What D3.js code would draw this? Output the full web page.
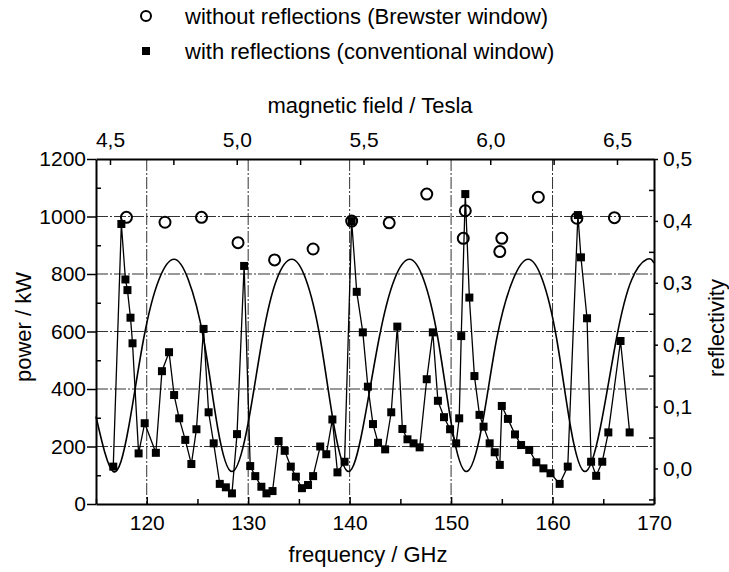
<!DOCTYPE html>
<html>
<head>
<meta charset="utf-8">
<script src="https://cdn.jsdelivr.net/npm/d3@7"></script>
<style>
  body { margin: 0; background: #fff; }
  svg { font-family: "Liberation Sans", Arial, sans-serif; }
  .axis path.domain { stroke: #000; stroke-width: 2; }
  .axis line { stroke: #000; stroke-width: 1.5; }
  .axis text { font-size: 21px; fill: #000; }
  .grid line { stroke: #333; stroke-width: 1; stroke-dasharray: 12,2,2,2; }
</style>
</head>
<body>
<div id="chart"></div>
<script>
// values
const openFreq = [118.0, 121.8, 125.4, 129.0, 132.6, 136.4, 140.2, 143.9, 147.6, 151.4, 151.2, 155.0, 154.8, 158.6, 162.4, 166.1];
const openPower = [997, 980, 997, 909, 849, 887, 984, 978, 1078, 1020, 924, 924, 878, 1067, 994, 996];

const filledFreq = [116.7, 117.5, 117.9, 118.1, 118.4, 118.6, 119.2, 119.8, 120.9, 121.5, 122.2, 122.7, 123.2, 123.8,
  124.4, 124.9, 125.6, 126.1, 126.6, 127.2, 127.8, 128.4, 128.9, 129.6, 130.2, 130.7, 131.3, 131.8, 132.4, 133.0,
  133.6, 134.2, 134.7, 135.3, 135.9, 136.4, 137.1, 137.7, 138.3, 138.8, 139.5, 140.2, 140.7, 141.3, 141.8, 142.3,
  142.8, 143.5, 144.1, 144.7, 145.2, 145.7, 146.3, 146.9, 147.6, 148.2, 148.7, 149.3, 149.9, 150.5, 150.8, 151.0,
  151.4, 151.8, 152.3, 152.8, 153.2, 153.8, 154.3, 154.8, 155.0, 155.6, 156.3, 156.9, 157.7, 158.4, 159.1, 159.8,
  160.7, 161.5, 162.5, 162.8, 163.4, 163.8, 164.3, 164.9, 165.5, 166.7, 167.6];
const filledPower = [130, 974, 781, 744, 648, 559, 176, 281, 178, 462, 528, 379, 298, 223,
  139, 260, 609, 319, 211, 70, 58, 37, 243, 828, 132, 97, 60, 37, 45, 219,
  185, 130, 95, 55, 66, 97, 200, 173, 294, 110, 147, 984, 738, 597, 408, 278,
  213, 190, 319, 617, 261, 225, 211, 197, 434, 597, 359, 302, 260, 211, 298, 584,
  1078, 718, 445, 310, 269, 211, 180, 136, 341, 296, 242, 205, 188, 145, 124, 107,
  70, 130, 1005, 858, 646, 147, 98, 147, 249, 567, 249];

const reflFreq = [115.0, 116.7, 118.2, 119.7, 121.2, 122.7, 124.1, 125.6, 127.0, 128.4, 129.9, 131.4, 132.8, 134.3,
  135.7, 137.1, 138.5, 139.9, 141.3, 142.9, 144.4, 145.9, 147.3, 148.7, 150.1, 151.5, 153.0, 154.5, 156.1, 157.6,
  159.0, 160.4, 161.8, 163.2, 164.7, 166.3, 167.8, 169.3, 170.0];
const reflValue = [0.084, -0.005, 0.065, 0.21, 0.305, 0.338, 0.305, 0.21, 0.065, -0.005, 0.065, 0.21, 0.305, 0.338,
  0.305, 0.21, 0.065, -0.005, 0.065, 0.21, 0.305, 0.338, 0.305, 0.21, 0.065, -0.005, 0.065, 0.21, 0.305, 0.338,
  0.305, 0.21, 0.065, -0.005, 0.065, 0.21, 0.305, 0.338, 0.332];

const freqTicks = [120, 130, 140, 150, 160, 170];
const freqMinor = [115, 125, 135, 145, 155, 165];
const powerTicks = [0, 200, 400, 600, 800, 1000, 1200];
const powerMinor = [100, 300, 500, 700, 900, 1100];
const fieldTicks = [4.5, 4.75, 5.0, 5.25, 5.5, 5.75, 6.0, 6.25, 6.5];
const reflTicks = [0, 0.1, 0.2, 0.3, 0.4, 0.5];
const reflMinor = [-0.05, 0.05, 0.15, 0.25, 0.35, 0.45];

const legendLabels = ['without reflections (Brewster window)', 'with reflections (conventional window)'];

const margin = { top: 159, right: 75, bottom: 68, left: 96 };
const width = 729 - margin.left - margin.right;
const height = 572 - margin.top - margin.bottom;

const comma = d => d3.format('.1f')(d).replace('.', ',');

const svg = d3.select('#chart')
  .append('svg')
  .attr('width', 729)
  .attr('height', 572);

const g = svg.append('g')
  .attr('transform', `translate(${margin.left},${margin.top})`);

const x = d3.scaleLinear().domain([115, 170]).range([0, width]);
const y = d3.scaleLinear().domain([0, 1200]).range([height, 0]);
const r = d3.scaleLinear().domain([-0.0574, 0.5]).range([height, 0]);
const b = d3.scaleLinear().domain([4.4448, 6.646]).range([0, width]);

// grid
g.append('g').attr('class', 'grid')
  .selectAll('line')
  .data(powerTicks.filter(d => d > 0 && d < 1200))
  .enter().append('line')
  .attr('x1', 0).attr('x2', width)
  .attr('y1', d => y(d)).attr('y2', d => y(d));

g.append('g').attr('class', 'grid')
  .selectAll('line')
  .data(freqTicks.filter(d => d < 170))
  .enter().append('line')
  .attr('y1', 0).attr('y2', height)
  .attr('x1', d => x(d)).attr('x2', d => x(d));

// reflectivity curve
g.append('path')
  .datum(reflFreq.map((f, i) => [f, reflValue[i]]))
  .attr('fill', 'none')
  .attr('stroke', '#000')
  .attr('stroke-width', 1.6)
  .attr('d', d3.line().x(d => x(d[0])).y(d => r(d[1])).curve(d3.curveNatural));

// with reflections: line + squares
const filled = filledFreq.map((f, i) => [f, filledPower[i]]);
g.append('path')
  .datum(filled)
  .attr('fill', 'none')
  .attr('stroke', '#000')
  .attr('stroke-width', 1.3)
  .attr('d', d3.line().x(d => x(d[0])).y(d => y(d[1])));

g.selectAll('.sq')
  .data(filled)
  .enter().append('rect')
  .attr('class', 'sq')
  .attr('x', d => x(d[0]) - 4)
  .attr('y', d => y(d[1]) - 4)
  .attr('width', 8)
  .attr('height', 8)
  .attr('fill', '#000');

// without reflections: open circles
g.selectAll('.ci')
  .data(openFreq.map((f, i) => [f, openPower[i]]))
  .enter().append('circle')
  .attr('class', 'ci')
  .attr('cx', d => x(d[0]))
  .attr('cy', d => y(d[1]))
  .attr('r', 5.5)
  .attr('fill', 'none')
  .attr('stroke', '#000')
  .attr('stroke-width', 2);

// axes
g.append('g').attr('class', 'axis')
  .call(d3.axisLeft(y).tickValues(powerTicks).tickSize(9).tickSizeOuter(0).tickPadding(1).tickFormat(d3.format('d')));
g.append('g').attr('class', 'axis')
  .call(d3.axisRight(y).tickValues(powerMinor).tickSize(5).tickFormat(''))
  .select('.domain').remove();

g.append('g').attr('class', 'axis')
  .attr('transform', `translate(0,${height})`)
  .call(d3.axisBottom(x).tickValues(freqTicks).tickSizeInner(-7).tickSizeOuter(0).tickPadding(11).tickFormat(d3.format('d')));
g.append('g').attr('class', 'axis')
  .attr('transform', `translate(0,${height})`)
  .call(d3.axisTop(x).tickValues(freqMinor).tickSize(5).tickFormat(''))
  .select('.domain').remove();

g.append('g').attr('class', 'axis')
  .call(d3.axisTop(b).tickValues(fieldTicks).tickSizeInner(-6).tickSizeOuter(0).tickPadding(12)
    .tickFormat(d => (Math.round(d * 4) % 2 === 0 ? comma(d) : '')));

g.append('g').attr('class', 'axis')
  .attr('transform', `translate(${width},0)`)
  .call(d3.axisRight(r).tickValues(reflTicks).tickSizeInner(4).tickSizeOuter(0).tickPadding(5).tickFormat(comma));
g.append('g').attr('class', 'axis')
  .attr('transform', `translate(${width},0)`)
  .call(d3.axisLeft(r).tickValues(reflMinor).tickSize(5).tickFormat(''))
  .select('.domain').remove();

// axis titles
svg.append('text')
  .attr('x', 370).attr('y', 113)
  .attr('text-anchor', 'middle')
  .attr('font-size', 22)
  .text('magnetic field / Tesla');

svg.append('text')
  .attr('x', 368).attr('y', 562)
  .attr('text-anchor', 'middle')
  .attr('font-size', 22)
  .text('frequency / GHz');

svg.append('text')
  .attr('transform', 'translate(31,327) rotate(-90)')
  .attr('text-anchor', 'middle')
  .attr('font-size', 22)
  .text('power / kW');

svg.append('text')
  .attr('transform', 'translate(724,328) rotate(-90)')
  .attr('text-anchor', 'middle')
  .attr('font-size', 22)
  .text('reflectivity');

// legend
const legend = svg.append('g');
legend.append('circle')
  .attr('cx', 146).attr('cy', 16).attr('r', 5)
  .attr('fill', 'none').attr('stroke', '#000').attr('stroke-width', 2);
legend.append('rect')
  .attr('x', 142).attr('y', 47).attr('width', 8).attr('height', 8)
  .attr('fill', '#000');
legend.selectAll('text')
  .data(legendLabels)
  .enter().append('text')
  .attr('x', 185)
  .attr('y', (d, i) => 24 + i * 35)
  .attr('font-size', 22)
  .text(d => d);
</script>
</body>
</html>
